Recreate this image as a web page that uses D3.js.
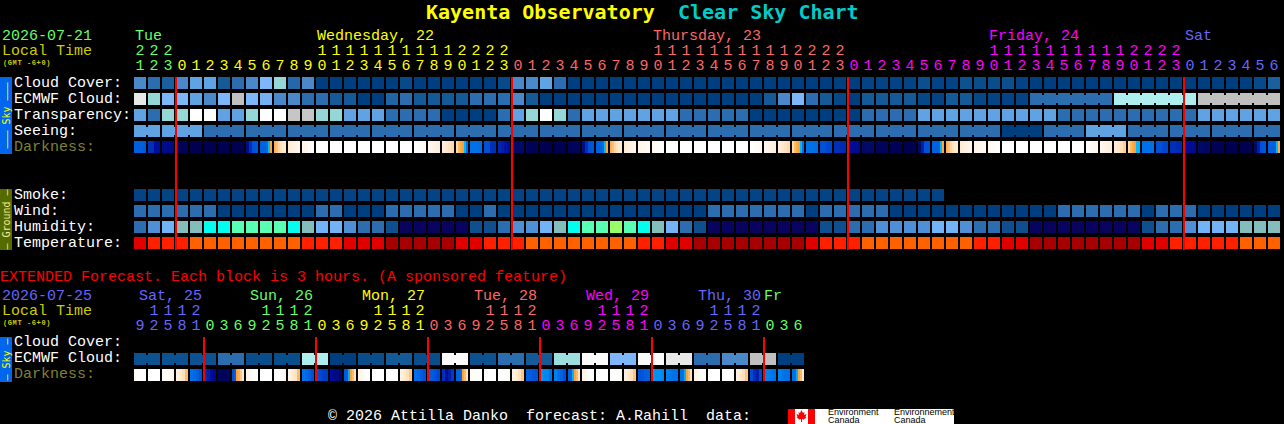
<!DOCTYPE html>
<html>
<head>
<meta charset="utf-8">
<script src="https://cdn.jsdelivr.net/npm/d3@7"></script>
<style>
html,body{margin:0;padding:0;background:#000;overflow:hidden}
svg{display:block}
text{font-family:"Liberation Mono",monospace;white-space:pre}
rect{shape-rendering:crispEdges}
</style>
</head>
<body>
<script>
// ---------- main forecast data (one value per hour) ----------
const startHour = 21;
const cloudCover = [
 3,2,1.3,3,4,4,1,2,3,5,
 6,1.7,3,0,0,0,0,0,0,0.4,
 0,0,0,0,0,0,0.4,3,3,4,
 2,0,0,0,0,0,0,0,0,0,
 0,0,0,0,0,0,0,0,0,0,
 0,0,0.2,0.2,0.2,0.2,0.6,0.2,0.2,0.7,
 0.5,0.5,0.6,0.2,0,0,0,0,0,0,
 0,0,0,0,0,0,0,0,0,0,
 0.4,1.3];
const ecmwfCloud = [
 9,6,5,5,4,3,5,8,5,4.7,
 3,3,2,2,1,1,0,0,1.5,2,
 1,1,1,1,2,2,2,3,1,0,
 0,0,0,0,0,0,0,0,0,0,
 0,0,0,0,0,1,3,5,2,1,
 0.3,0,1,1,1,1,0.3,0.2,1,1,
 0.3,0.2,0.2,0.2,2,2,2,2,2,2,
 7,7,7,7,7,7,8,8,8,8,
 8,8];
const transparency = [
 2,1,3,3,4,4,2,2,3,4,
 4,5,5,3,3,2,2,2,1,1,
 1,1,0,0,0,0,1,2,3,4,
 3,1,2,2,2,2,2,2,2,1,
 1,1,1,1,0,0,0,0,0,0,
 0,0,1,1,1,1,2,2,2,2,
 2,2,2,2,2,2,1,1,1,1,
 1,1,1,1,1,1,2,2,2,2,
 2,2];
const seeing = [
 2,2,2,2,2,1,1,1,1,1,
 1,1,1,1,1,1,1,1,1,1,
 1,1,1,1,1,1,1,1,1,1,
 1,1,1,1,1,1,1,1,1,1,
 1,1,1,1,1,1,1,1,1,1,
 1,1,1,1,1,1,1,1,1,1,
 1,1,0,0,0,1,1,1,2,2,
 2,1,1,1,1,1,1,1,1,1,
 1,1];
const darkness = [
 [1.5,1.5,1.5,1.7],[3,3,4,4],[4.3,4.3,4.3,4.5],[5.5,5.6,5.8,5.8],[6,6,6,6],[6,6,6,6],[6,6,6,6],[6,6,6,6],
 [4.3,3,2,1.8],[1.5,1.5,1.4,1.2,0.1,-0.5],[-1,-1.3,-1.7,-2,-2.3,-2.5],[-2.5,-2.7,-2.9,-3.1],[-3,-3.2,-3.6,-4],
 [-4],[-4],[-4],[-4],[-4],[-4],[-4],[-4,-3.8,-3.6,-3.4],[-3.3,-3.1,-2.8,-2.6],[-2.6,-2.3,-2,-1.8],[-1.8,-1.2,-0.8,-0.5,0.1,1],
 [1,1,1,1.1],[2,2,3,3],[3.3,3.5,3.8,4],[4.8,5,5,5],[5.5,5.7,5.8,5.8],[6,6,6,6],[6,6,6,6],[5.6,5.6,5.5,5.5],
 [4.5,3,2,1.8],[1.5,1.5,1.4,1.2,0.1,-0.5],[-1,-1.3,-1.7,-2,-2.3,-2.5],[-2.5,-2.7,-2.9,-3.1],[-3,-3.2,-3.4,-3.5],[-3.4,-3.6,-3.8,-4],
 [-4],[-4],[-4],[-4],[-4],[-4],[-4,-3.8,-3.6,-3.4],[-3.3,-3.1,-2.8,-2.6],[-2.6,-2.3,-2,-1.8],[-1.8,-1.2,-0.8,-0.5,0.1,1],
 [1,1,1,1.1],[2,2,2.3,2.3],[3,3,3.2,3.2],[4,4,4.2,4.2],[5,5,5,5],[5.5,5.5,5.5,5.5],[5.8,5.8,5.8,5.8],[6,6,6,6],
 [5,3.5,2,2],[1.5,1.5,1.5,1.5,0.1,-0.7],[-1,-1.3,-1.7,-2,-2.3,-2.5],[-2.5,-2.7,-2.9,-3.1],[-3,-3.2,-3.4,-3.5],[-3.4,-3.6,-3.8,-4],
 [-4],[-4],[-4],[-4],[-4],[-4],[-4,-3.6,-3.4,-3.2],[-3.2,-3,-2.8,-2.6],[-2.5,-2.2,-1.9,-1.6],[-1.8,-1.2,-0.8,-0.5,0.1,0.1],
 [1,1,1,1],[2,2,2.3,2.3],[3,3,3.2,3.2],[4,4,4.2,4.2],[5,5,5.2,5.2],[5.8,5.8,5.8,5.8],[6,6,6,6],[6,6,6,6],
 [5,3.5,2,1.8],[1.5,1.5,1.5,1.5,0.1,-0.7]];
const smoke = [
 0.2,0.2,0.2,0.2,0.2,0.2,0.2,0.2,0.2,0.2,
 0.2,0.2,0.2,0.2,0.2,0.2,0.2,0.2,0.2,0.2,
 0.2,0.2,0.2,0.2,0.2,0.2,0.2,0.2,0.2,0.2,
 0.2,0.2,0.2,0.2,0.2,0.2,0.2,0.2,0.2,0.2,
 0.2,0.2,0.2,0.2,0.2,0.2,0.2,0.2,0.2,0.2,
 0.2,0.2,0.2,0.2,0.2,0.2,0.2,0.2];
const wind = [
 2,2,2,2,2,2,0,0,0,0,
 0,0,0,2,2,0,0,0,2,2,
 2,2,2,0,0,2,0,0,0,0,
 0,0,0,0,0,0,0,0,0,0,
 0,2,2,2,2,2,2,2,0,2,
 2,2,2,2,0,0,0,0,0,0,
 0,0,0,0,0,0,2,2,2,2,
 2,2,0,2,2,2,0,0,0,0,
 0,0];
const humidity = [
 2,3,4,5,5,6,6,7,7,7,
 7,6,5,4,4,3,2,2,1,0,
 0,0,0,0,1,1,2,3,3,4,
 5,6,7,7,8,7,6,5,4,2,
 1,0,0,0,0,0,0,0,0,1,
 1,2,2,3,3,3,3,4,4,3,
 2,2,1,1,0,0,0,0,0,0,
 0,0,1,2,2,3,4,4,4,5,
 5,5];
const temperature = [
 1,2,2,2,3,3,3,3,3,3,
 3,3,2,2,2,1,1,1,0,0,
 0,0,0,1,1,2,2,2,3,3,
 3,3,3,3,3,3,2,2,1,1,
 0,0,0,0,0,0,0,0,1,2,
 2,2,3,3,3,3,3,3,3,3,
 2,2,1,1,0,0,0,0,0,0,
 0,0,1,1,2,2,2,2,2,3,
 3,3];
const dayLabels = ["Tue","Wednesday, 22","Thursday, 23","Friday, 24","Sat"];
const dayStartCols = [0,3,27,51,75];
const dayLabelCols = [0,13,37,61,75];
const dayColors = ["#66ff66","#ffff00","#ff6666","#ff00ff","#6666ff"];
const labelsSky = ["Cloud Cover:","ECMWF Cloud:","Transparency:","Seeing:","Darkness:"];
const labelsGround = ["Smoke:","Wind:","Humidity:","Temperature:"];

// ---------- extended forecast data (one value per 3 hours) ----------
const extHours = [9,12,15,18,21,0,3,6,9,12,15,18,21,0,3,6,9,12,15,18,21,0,3,6,9,12,15,18,21,0,3,6,9,12,15,18,21,0,3,6,9,12,15,18,21,0,3,6];
const extEcmwf = [0.7,0.7,0.7,2,0.5,0.5,7,0,0.5,1,0.5,10,0.7,2,1,6.3,10,5,10,9,2,3,8,0];
const extDarkness = [
 [-3.6,-3.8,-4,-4],[-4],[-4,-3.8,-3.5,-3.3],[-2.8,-2.4,-1.9,-1.2],[1,1.2,1.6,2],[3,3.5,4,4.5],[5.4,5.6,5.6,5.4],[2,1.5,-0.6,-1,-1.5,-2.4],
 [-3,-3.4,-3.8,-4],[-4],[-4,-4,-3.6,-3.4],[-3,-2.5,-2,-1.2],[1,1.2,1.6,2],[2,2.2,2.5,2.6],[4,4.5,4.5,5],[1.7,1.5,0.2,-0.6,-1.2,-2],
 [-3,-3.4,-3.8,-4],[-4],[-4],[-2.8,-2.4,-1.9,-1.4],[1,1.2,1.6,2],[1.5,1.7,2,2.3],[3,4,3.5,2.6],[1.5,1.5,1.2,-0.6,-1.2,-2],
 [-3.6,-3.8,-4],[-4],[-4,-3.8],[-2.8,-2.4,-1.9,-1.4],[1.5,1.6,1.8,2],[0.5,0.7,0.7,1],[0.8,1,1.4,2],[1.5,1.3,0.2,-0.6,-1.2,-2],
 [-3,-3.4,-3.8,-4],[-4],[-4,-3.8],[-2.8,-2.4,-1.9,-1.4],[2,1.8,1.6,1.5],[0.5,0.6,0.6,0.7],[0.8,0.9,1,1],[1,1,0.2,-0.6,-1.2,-2],
 [-3,-3.4,-3.8,-4],[-4],[-4],[-2.8,-2.4,-1.9,-1.4],[2.2,3,3.5,2.2],[0.8,0.8,0.9,1],[0.8,0.9,1,1],[1,1,0.2,-0.6,-1.2,-2.5]];
const extDayLabels = ["Sat, 25","Sun, 26","Mon, 27","Tue, 28","Wed, 29","Thu, 30","Fr"];
const extDayStarts = [0,5,13,21,29,37,45];
const extLabelXCols = [0,8,16,24,32,40,45];
const extDayColors = ["#6666ff","#66ff66","#ffff00","#ff6666","#ff00ff","#6666ff","#66ff66"];
const labelsExt = ["Cloud Cover:","ECMWF Cloud:","Darkness:"];

// ---------- scales ----------
const cloudScale = d3.scaleLinear()
  .domain([0,1,2,3,4,5,6,7,8,9,10])
  .range(["#003f7f","#135a97","#2c6daf","#4a88c9","#5fa3e3","#7db7fa","#95d7d7","#afeeee","#c0c0c0","#e8e8e8","#fbfbfb"]);
const transparencyScale = d3.scaleOrdinal().domain([0,1,2,3,4,5])
  .range(["#003f7f","#2c6daf","#5fa3e3","#95d7d7","#ffffff","#c6c6c6"]);
const seeingScale = d3.scaleOrdinal().domain([0,1,2]).range(["#003f7f","#2c6daf","#5fa3e3"]);
const windScale = d3.scaleLinear().domain([0,2]).range(["#003f7f","#2c6daf"]);
const humidityScale = d3.scaleOrdinal().domain([0,1,2,3,4,5,6,7,8])
  .range(["#08035f","#0f4f8f","#2c6daf","#4f8fd5","#72b3f8","#83bebd","#00ffee","#59ffb2","#99ff66"]);
const tempScale = d3.scaleOrdinal().domain([0,1,2,3]).range(["#a80000","#e10000","#ff2000","#ff6000"]);
const darkScale = d3.scaleLinear()
  .domain([-4,-3,-2,-1,-0.5,0,1,2,3,4,5,6])
  .range(["#ffffff","#fff4e8","#ffe4c4","#ffb050","#ffa030","#00c0ff","#0070e8","#0050d8","#0030b8","#000c9c","#000868","#000050"]);

const W = 1284, H = 424, LEFT = 134, STEP = 14, CELL = 12;
const x = d3.scaleBand().domain(d3.range(cloudCover.length))
  .range([LEFT, LEFT + cloudCover.length*STEP - (STEP-CELL)]).paddingInner((STEP-CELL)/STEP).paddingOuter(0);
const xe = d3.scaleBand().domain(d3.range(extHours.length))
  .range([LEFT, LEFT + extHours.length*STEP - (STEP-CELL)]).paddingInner((STEP-CELL)/STEP).paddingOuter(0);
const yMain = d3.scaleOrdinal().domain(["cloud","ecmwf","trans","seeing","dark","smoke","wind","hum","temp"])
  .range([77,93,109,125,141,189,205,221,237]);

const svg = d3.select("body").append("svg").attr("width",W).attr("height",H);
svg.append("rect").attr("width",W).attr("height",H).attr("fill","#000");

function txt(s,px,py,size,fill,weight){
  return svg.append("text").attr("x",px).attr("y",py).attr("font-size",size)
    .attr("fill",fill).attr("font-weight",weight||"normal").text(s);
}
function row(vals,scale,xs,y){
  svg.append("g").selectAll("rect").data(vals).join("rect")
    .attr("x",(d,i)=>Math.round(xs(i))).attr("y",y).attr("width",CELL).attr("height",CELL)
    .attr("fill",d=>scale(d));
}
function necks(vals,scale,xs,y,joined){
  svg.append("g").selectAll("rect").data(vals.map((v,i)=>({v,i})).filter(d=>d.i<vals.length-1&&joined(d.i))).join("rect")
    .attr("x",d=>Math.round(xs(d.i))+CELL).attr("y",y+2).attr("width",STEP-CELL).attr("height",CELL-4)
    .attr("fill",d=>scale(d.v));
}
function sampled(vals,xs,y){
  const g = svg.append("g");
  vals.forEach((samples,i)=>{
    const w = CELL/samples.length;
    g.append("g").selectAll("rect").data(samples).join("rect")
      .attr("x",(d,j)=>Math.round(xs(i))+Math.floor(j*w)).attr("y",y)
      .attr("width",(d,j)=>Math.floor((j+1)*w)-Math.floor(j*w)).attr("height",CELL)
      .attr("fill",d=>darkScale(d));
  });
}
function digits(scale,y,vals,colorOf){
  const ax = d3.axisTop(scale).tickSize(0).tickPadding(0).tickValues(vals.map(d=>d.i)).tickFormat(i=>vals.find(d=>d.i===i).c);
  const g = svg.append("g").attr("transform",`translate(0,${y})`).call(ax);
  g.select(".domain").remove();
  g.selectAll(".tick text").attr("font-size",15).attr("fill",i=>colorOf(i));
}
function sideBar(y,h,fill,label,color){
  svg.append("rect").attr("x",0).attr("y",y).attr("width",12).attr("height",h).attr("fill",fill);
  svg.append("text").attr("transform",`translate(9.5,${y+h/2}) rotate(-90)`).attr("text-anchor","middle")
    .attr("font-size",10).attr("fill",color).style("font-family","'DejaVu Sans Mono',monospace").text(label);
}
const dejavu = "'DejaVu Sans Mono',monospace";
function gmt(py){
  txt("(GMT -6+0)",3,py,7,"#cccc00","bold").style("letter-spacing","0.6px");
}

// ---------- titles ----------
txt("Kayenta Observatory",426,19,20,"#ffff00","bold").style("font-family",dejavu);
txt("Clear Sky Chart",678,19,20,"#00cccc","bold").style("font-family",dejavu);

// ---------- main header ----------
txt("2026-07-21",2,39.5,15,"#66ff66");
txt("Local Time",2,54.5,15,"#cccc00");
gmt(65);
const colOfDay = i => dayColors[d3.bisectRight(dayStartCols,i)-1];
const hoursMain = cloudCover.map((_,i)=>(startHour+i)%24);
digits(x,55,hoursMain.map((h,i)=>({i,h,c:String(Math.floor(h/10))})).filter(d=>d.h>=10),colOfDay);
digits(x,70,hoursMain.map((h,i)=>({i,c:String(h%10)})),colOfDay);
dayLabels.forEach((s,i)=>txt(s,x(dayLabelCols[i])+1,39.5,15,dayColors[i]));

// ---------- labels ----------
labelsSky.forEach((s,i)=>txt(s,14,86.5+16*i,15,s==="Darkness:"?"#808030":"#ffffff"));
labelsGround.forEach((s,i)=>txt(s,14,198.5+16*i,15,"#ffffff"));
sideBar(77,77,"#0066ee","––– Sky –––","#ffff00");
sideBar(189,61,"#556b00","– Ground –","#eeee99");

// ---------- main rows ----------
row(cloudCover,cloudScale,x,yMain("cloud"));
row(ecmwfCloud,cloudScale,x,yMain("ecmwf"));
necks(ecmwfCloud,cloudScale,x,yMain("ecmwf"),i=>i>=64&&i!==69&&i!==75);
row(transparency,transparencyScale,x,yMain("trans"));
row(seeing,seeingScale,x,yMain("seeing"));
necks(seeing,seeingScale,x,yMain("seeing"),i=>(i+1-2)%3!==0);
sampled(darkness,x,yMain("dark"));
row(smoke,cloudScale,x,yMain("smoke"));
row(wind,windScale,x,yMain("wind"));
row(humidity,humidityScale,x,yMain("hum"));
row(temperature,tempScale,x,yMain("temp"));

// midnight lines
svg.append("g").selectAll("rect").data(hoursMain.map((h,i)=>({h,i})).filter(d=>d.h===0)).join("rect")
  .attr("x",d=>Math.round(x(d.i))-1).attr("y",77).attr("width",2).attr("height",173).attr("fill","#ff0000");

// ---------- extended ----------
txt("EXTENDED Forecast. Each block is 3 hours. (A sponsored feature)",0,280.5,15,"#ff0000");
txt("2026-07-25",2,299.5,15,"#6666ff");
txt("Local Time",2,314.5,15,"#cccc00");
gmt(325);
const colOfExt = i => extDayColors[d3.bisectRight(extDayStarts,i)-1];
digits(xe,315,extHours.map((h,i)=>({i,h,c:String(Math.floor(h/10))})).filter(d=>d.h>=10),colOfExt);
digits(xe,330,extHours.map((h,i)=>({i,c:String(h%10)})),colOfExt);
extDayLabels.forEach((s,i)=>{
  const px = i===0 ? 139 : i===6 ? 764 : xe(extLabelXCols[i])+4;
  txt(s,px,299.5,15,extDayColors[i]);
});
labelsExt.forEach((s,i)=>txt(s,14,345.5+16*i,15,s==="Darkness:"?"#808030":"#ffffff"));
sideBar(337,45,"#0066ee","– Sky –","#ffff00");

const extEcmwfByCol = extHours.map((_,i)=>extEcmwf[Math.floor(i/2)]);
row(extEcmwfByCol,cloudScale,xe,353);
necks(extEcmwfByCol,cloudScale,xe,353,i=>i%2===0);
sampled(extDarkness,xe,369);
svg.append("g").selectAll("rect").data(extHours.map((h,i)=>({h,i})).filter(d=>d.h===0)).join("rect")
  .attr("x",d=>Math.round(xe(d.i))-1).attr("y",337).attr("width",2).attr("height",44).attr("fill","#ff0000");

// ---------- footer ----------
txt("© 2026 Attilla Danko  forecast: A.Rahill  data:",328,419.5,15,"#ffffff");
svg.append("rect").attr("x",788).attr("y",409).attr("width",166).attr("height",15).attr("fill","#ffffff");
svg.append("rect").attr("x",788).attr("y",409).attr("width",7).attr("height",15).attr("fill","#ff0000");
svg.append("rect").attr("x",808).attr("y",409).attr("width",7).attr("height",15).attr("fill","#ff0000");
svg.append("path").attr("transform","translate(801.5,416)").attr("fill","#ff0000")
  .attr("d","M0,-6L1.5,-3L3,-4L2.5,-1L5,-2L4,1L5,1.5L2,3.5L0.5,3L0.5,6L-0.5,6L-0.5,3L-2,3.5L-5,1.5L-4,1L-5,-2L-2.5,-1L-3,-4L-1.5,-3Z");
[["Environment",828,415],["Canada",828,423],["Environnement",894,415],["Canada",894,423]].forEach(d=>{
  svg.append("text").attr("x",d[1]).attr("y",d[2]).attr("font-size",9).attr("fill","#000")
    .style("font-family","'Liberation Sans',sans-serif").text(d[0]);
});
</script>
</body>
</html>
